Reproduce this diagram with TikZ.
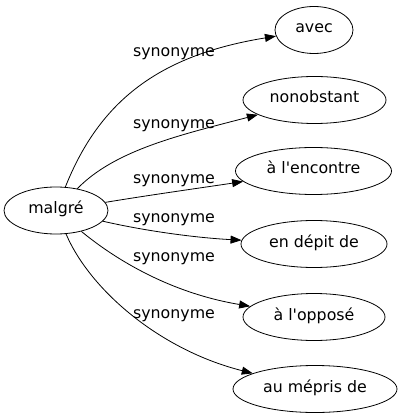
\documentclass[tikz,border=0pt]{standalone}
\usepackage{fontspec}
\setmainfont{DejaVu Sans}[Ligatures=TeXOff]
\usetikzlibrary{shapes.geometric,arrows.meta}
\tikzset{
  wordnode/.style={draw, ellipse, line width=0.8pt, inner sep=0pt, minimum height=47pt,
    font=\fontsize{15.8pt}{18pt}\selectfont, text height=10pt, text depth=4pt, text=black},
  rel/.style={font=\fontsize{15.8pt}{18pt}\selectfont, anchor=base, inner sep=0pt, text=black},
  edge/.style={draw, line width=0.8pt, -{Triangle[length=11pt,width=8pt]}}
}
\begin{document}
\begin{tikzpicture}[x=1pt, y=-1pt]
\useasboundingbox (0,0) rectangle (401,419);
\node[wordnode, minimum width=104pt] (malgre) at (56,210.5) {malgré};
\node[wordnode, minimum width=78pt] (avec) at (314,30) {avec};
\node[wordnode, minimum width=143pt] (nono) at (314.5,100) {nonobstant};
\node[wordnode, minimum width=156pt] (enco) at (313.5,171) {à l'encontre};
\node[wordnode, minimum width=146pt] (depit) at (314,244) {en dépit de};
\node[wordnode, minimum width=142pt] (oppo) at (314,317) {à l'opposé};
\node[wordnode, minimum width=164pt] (mepris) at (315,389) {au mépris de};

\draw[edge] (malgre) .. controls (100,100) and (160,55) .. (avec);
\draw[edge] (malgre) .. controls (115,150) and (180,135) .. (nono);
\draw[edge] (malgre) .. controls (150,195) and (200,188) .. (enco);
\draw[edge] (malgre) .. controls (150,232) and (200,238) .. (depit);
\draw[edge] (malgre) .. controls (110,255) and (165,292) .. (oppo);
\draw[edge] (malgre) .. controls (90,290) and (160,350) .. (mepris);

\node[rel] (l1) at (174,57) {synonyme};
\node[rel] (l2) at (174,128.3) {synonyme};
\node[rel] (l3) at (174,183.3) {synonyme};
\node[rel] (l4) at (174,222.7) {synonyme};
\node[rel] (l5) at (174,261.7) {synonyme};
\node[rel] (l6) at (174,318.3) {synonyme};
\end{tikzpicture}
\end{document}
